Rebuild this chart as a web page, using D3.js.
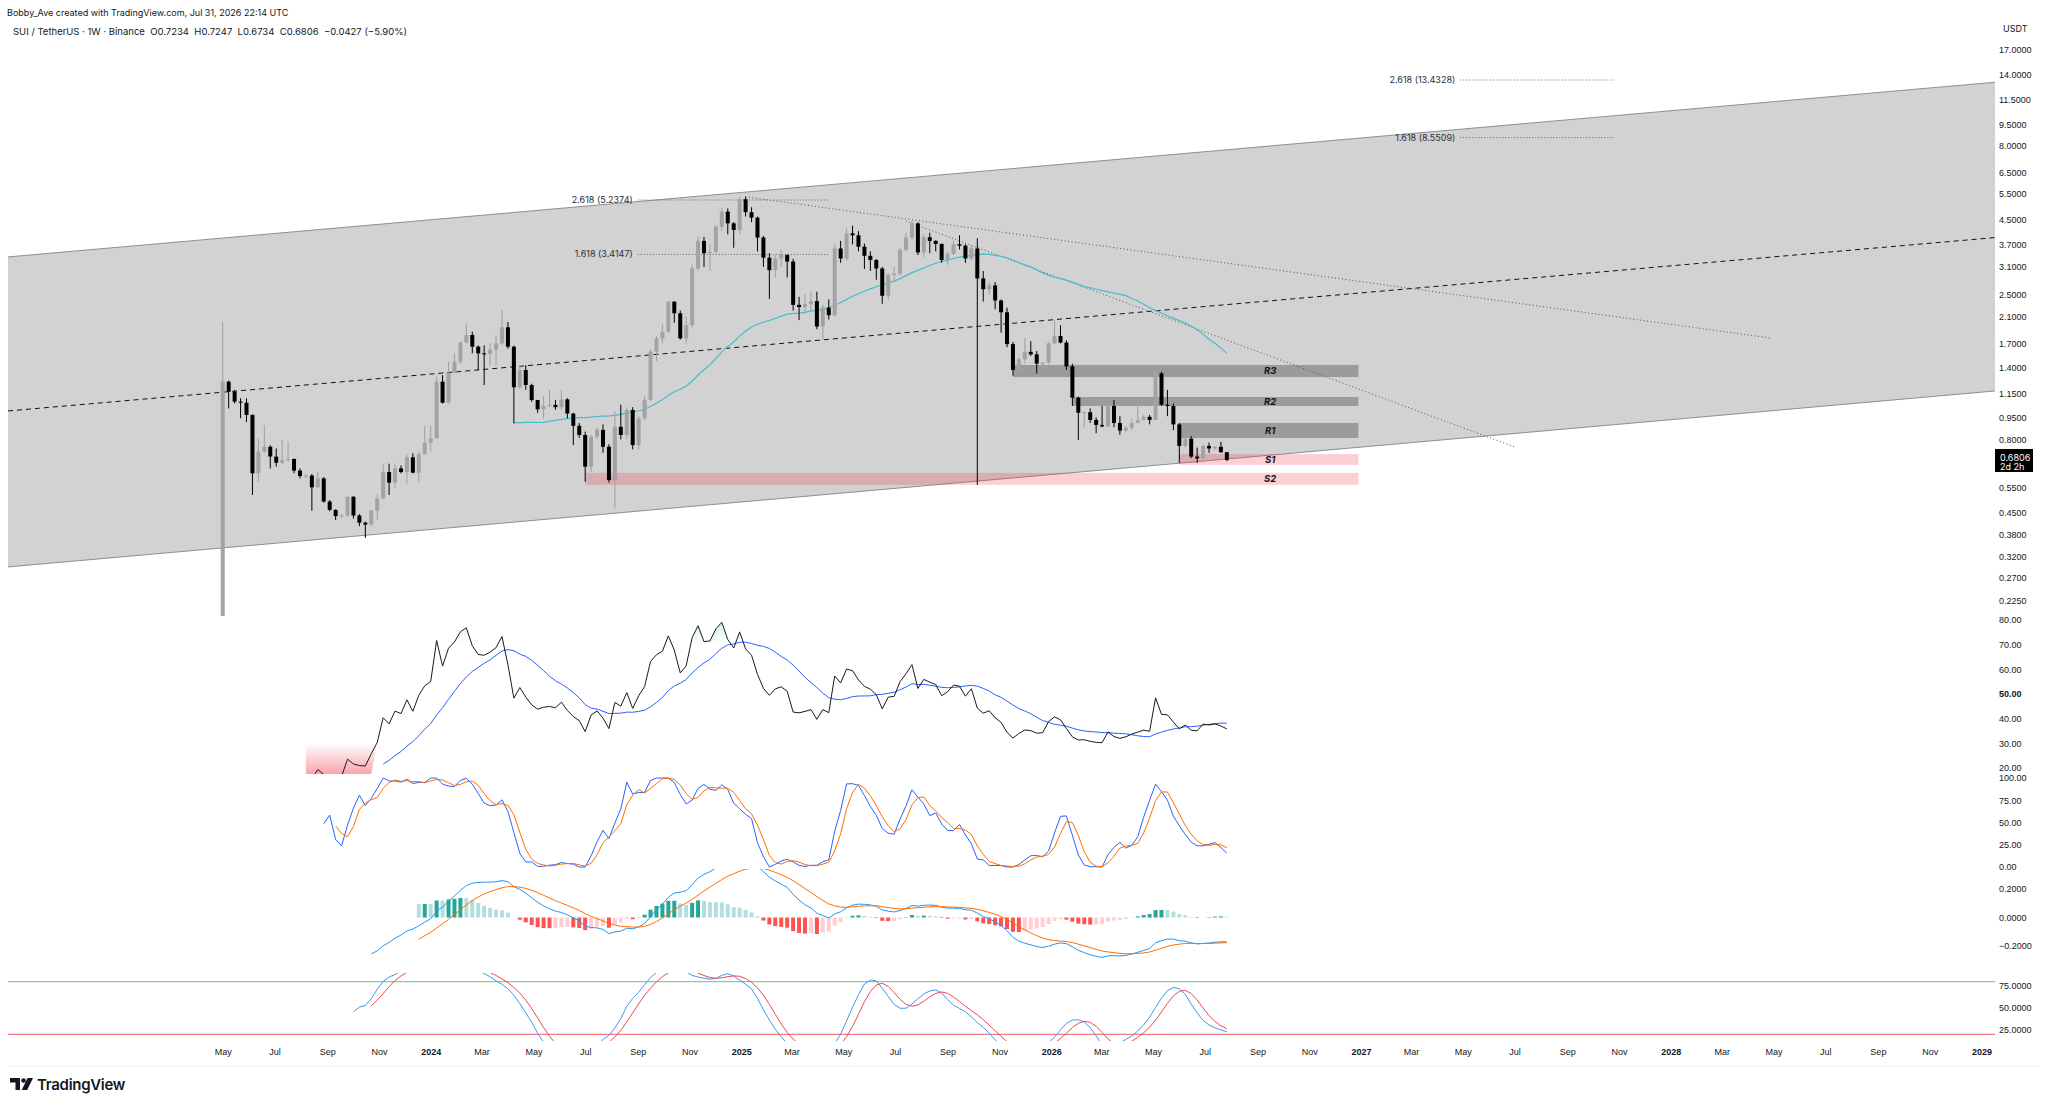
<!DOCTYPE html>
<html>
<head>
<meta charset="utf-8">
<script src="https://cdn.jsdelivr.net/npm/d3@7"></script>
<style>
  body { margin: 0; background: #fff; }
  svg { display: block; font-family: Inter, Roboto, "Noto Sans", sans-serif; }
  .axis text { fill: #131722; font-size: 9px; }
  .axis .domain { display: none; }
</style>
</head>
<body>
<script>
var width = 2048;
var height = 1106;

// weekly SUI / USDT candles, first week 2023-05-01
var firstWeek = '2023-05-01';
var opens = [
  0.20, 1.258, 1.163, 1.076, 1.067, 0.969, 0.613, 0.727, 0.755, 0.699,
  0.666, 0.680, 0.686, 0.626, 0.600, 0.602, 0.549, 0.589, 0.491, 0.460,
  0.438, 0.440, 0.510, 0.440, 0.416, 0.410, 0.457, 0.503, 0.619, 0.570,
  0.637, 0.619, 0.695, 0.616, 0.713, 0.778, 0.808, 1.258, 1.067, 1.349,
  1.473, 1.710, 1.815, 1.656, 1.572, 1.565, 1.62, 1.70, 1.928, 1.656,
  1.204, 1.379, 1.226, 1.09, 1.013, 1.04, 1.049, 1.03, 1.095, 0.98,
  0.89, 0.828, 0.646, 0.818, 0.862, 0.755, 0.581, 0.883, 0.828, 1.008,
  0.765, 0.944, 1.09, 1.593, 1.768, 1.863, 2.357, 2.153, 1.768, 1.963,
  3.06, 3.80, 3.45, 3.49, 4.25, 4.78, 4.36, 4.14, 5.27, 4.76,
  4.56, 3.90, 3.33, 3.02, 3.31, 3.40, 3.23, 2.30, 2.26, 2.31,
  2.37, 1.94, 2.25, 2.12, 3.58, 3.31, 4.03, 3.97, 3.63, 3.38,
  3.27, 3.06, 2.47, 2.91, 2.94, 3.54, 3.90, 4.36, 3.47, 3.91,
  3.80, 3.71, 3.27, 3.43, 3.70, 3.66, 3.31, 3.58, 2.83, 2.60,
  2.68, 2.38, 2.17, 1.69, 1.38, 1.50, 1.59, 1.56, 1.45, 1.46,
  1.70, 1.80, 1.71, 1.42, 1.11, 0.986, 0.99, 0.932, 0.896, 0.886,
  1.04, 0.91, 0.857, 0.877, 0.91, 0.932, 0.955, 0.932, 1.343, 1.05,
  1.04, 0.90, 0.76, 0.805, 0.699, 0.689, 0.76, 0.745, 0.755, 0.7234
];
var highs = [
  2.01, 1.27, 1.18, 1.105, 1.105, 0.975, 0.805, 0.896, 0.765, 0.745,
  0.796, 0.785, 0.689, 0.637, 0.61, 0.61, 0.619, 0.595, 0.497, 0.462,
  0.445, 0.512, 0.512, 0.445, 0.42, 0.46, 0.519, 0.657, 0.661, 0.661,
  0.652, 0.711, 0.717, 0.727, 0.89, 0.89, 1.309, 1.325, 1.473, 1.572,
  1.724, 1.989, 1.863, 1.673, 1.673, 1.70, 1.815, 2.21, 2.01, 1.67,
  1.433, 1.433, 1.238, 1.09, 1.123, 1.18, 1.09, 1.18, 1.105, 0.985,
  0.91, 0.85, 0.83, 0.88, 0.90, 0.77, 1.0, 1.05, 1.03, 1.03,
  0.96, 1.12, 1.62, 1.80, 1.97, 2.37, 2.37, 2.20, 2.10, 3.16,
  3.94, 3.92, 3.70, 4.30, 4.92, 4.90, 4.40, 5.37, 5.37, 4.95,
  4.60, 3.95, 3.45, 3.40, 3.55, 3.42, 3.30, 2.45, 2.5, 2.55,
  2.55, 2.30, 2.40, 3.70, 3.80, 4.20, 4.28, 4.10, 3.72, 3.50,
  3.30, 3.10, 2.95, 3.10, 3.60, 4.05, 4.44, 4.40, 4.0, 4.05,
  3.82, 3.72, 3.50, 3.80, 3.97, 3.70, 3.65, 3.88, 3.0, 2.75,
  2.75, 2.40, 2.25, 1.72, 1.52, 1.77, 1.73, 1.60, 1.47, 1.72,
  2.04, 1.96, 1.74, 1.45, 1.12, 1.0, 1.02, 0.95, 1.04, 1.05,
  1.09, 0.96, 0.89, 0.94, 1.04, 0.97, 0.97, 1.36, 1.36, 1.18,
  1.06, 0.91, 0.84, 0.82, 0.75, 0.77, 0.78, 0.76, 0.785, 0.7247
];
var lows = [
  0.20, 1.02, 1.06, 0.944, 0.917, 0.517, 0.574, 0.72, 0.637, 0.646,
  0.661, 0.670, 0.613, 0.589, 0.59, 0.457, 0.546, 0.487, 0.455, 0.425,
  0.432, 0.435, 0.430, 0.405, 0.369, 0.405, 0.425, 0.50, 0.517, 0.546,
  0.613, 0.566, 0.613, 0.574, 0.71, 0.727, 0.805, 1.06, 1.06, 1.345,
  1.448, 1.70, 1.572, 1.379, 1.226, 1.433, 1.433, 1.68, 1.63, 0.907,
  1.19, 1.18, 1.075, 0.986, 0.944, 1.03, 1.01, 1.013, 0.944, 0.765,
  0.81, 0.574, 0.62, 0.80, 0.72, 0.57, 0.466, 0.80, 0.80, 0.74,
  0.74, 0.93, 1.08, 1.48, 1.70, 1.84, 2.00, 1.75, 1.70, 1.93,
  3.0, 3.10, 3.0, 3.45, 4.1, 4.0, 3.60, 4.0, 4.6, 4.40,
  3.5, 3.10, 2.41, 2.85, 3.1, 2.85, 2.20, 2.04, 2.15, 2.2,
  1.90, 1.75, 2.05, 2.10, 3.20, 3.25, 3.70, 3.50, 3.05, 3.0,
  2.80, 2.32, 2.40, 2.75, 2.90, 3.50, 3.80, 3.40, 3.35, 3.45,
  3.50, 3.20, 3.15, 3.40, 3.55, 3.20, 3.25, 0.56, 2.36, 2.50,
  2.22, 1.85, 1.65, 1.32, 1.36, 1.45, 1.54, 1.34, 1.43, 1.44,
  1.69, 1.70, 1.38, 1.04, 0.796, 0.88, 0.91, 0.84, 0.88, 0.88,
  0.88, 0.83, 0.85, 0.86, 0.91, 0.93, 0.90, 0.93, 1.04, 0.96,
  0.86, 0.665, 0.75, 0.69, 0.665, 0.685, 0.72, 0.735, 0.72, 0.6734
];
var closes = [
  1.258, 1.163, 1.076, 1.067, 0.969, 0.613, 0.727, 0.755, 0.699, 0.666,
  0.680, 0.686, 0.626, 0.600, 0.602, 0.549, 0.589, 0.491, 0.460, 0.438,
  0.440, 0.510, 0.440, 0.416, 0.410, 0.457, 0.503, 0.619, 0.570, 0.637,
  0.619, 0.695, 0.616, 0.713, 0.778, 0.808, 1.258, 1.067, 1.349, 1.473,
  1.710, 1.815, 1.656, 1.572, 1.565, 1.62, 1.70, 1.928, 1.656, 1.204,
  1.379, 1.226, 1.09, 1.013, 1.04, 1.049, 1.03, 1.095, 0.98, 0.89,
  0.828, 0.646, 0.818, 0.862, 0.755, 0.581, 0.883, 0.828, 1.008, 0.765,
  0.944, 1.09, 1.593, 1.768, 1.863, 2.357, 2.153, 1.768, 1.963, 3.06,
  3.80, 3.45, 3.49, 4.25, 4.78, 4.36, 4.14, 5.27, 4.76, 4.56,
  3.90, 3.33, 3.02, 3.31, 3.40, 3.23, 2.30, 2.26, 2.31, 2.37,
  1.94, 2.25, 2.12, 3.58, 3.31, 4.03, 3.97, 3.63, 3.38, 3.27,
  3.06, 2.47, 2.91, 2.94, 3.54, 3.90, 4.36, 3.47, 3.91, 3.80,
  3.71, 3.27, 3.43, 3.70, 3.66, 3.31, 3.58, 2.83, 2.60, 2.68,
  2.38, 2.17, 1.69, 1.38, 1.50, 1.59, 1.56, 1.45, 1.46, 1.70,
  1.80, 1.71, 1.42, 1.11, 0.986, 0.99, 0.932, 0.896, 0.886, 1.04,
  0.91, 0.857, 0.877, 0.91, 0.932, 0.955, 0.932, 1.343, 1.05, 1.04,
  0.90, 0.76, 0.805, 0.699, 0.689, 0.76, 0.745, 0.755, 0.7234, 0.6806
];

// drawings: channel edges as [date, price]
var channelTop = [['2022-08-21', 3.35], ['2029-01-17', 13.2]];
var channelBottom = [['2022-08-21', 0.294], ['2029-01-17', 1.17]];
var channelMid = [['2022-08-21', 1.0], ['2029-01-17', 3.9]];

var trendStarts = [['2025-01-06', 5.37], ['2025-07-14', 4.44]];
var trendEnds = [['2028-04-29', 1.77], ['2027-07-01', 0.754]];

var fibLabels = ['2.618 (5.2374)', '1.618 (3.4147)', '2.618 (13.4328)', '1.618 (8.5509)'];
var fibPrices = [5.2374, 3.4147, 13.4328, 8.5509];
var fibStarts = ['2024-09-01', '2024-09-01', '2027-04-28', '2027-04-28'];
var fibEnds = ['2025-04-14', '2025-04-14', '2027-10-26', '2027-10-26'];

var zoneNames = ['R3', 'R2', 'R1', 'S1', 'S2'];
var zoneTops = [1.435, 1.116, 0.910, 0.713, 0.615];
var zoneBottoms = [1.305, 1.04, 0.809, 0.655, 0.560];
var zoneStarts = ['2025-11-17', '2026-01-26', '2026-06-01', '2026-06-01', '2024-07-01'];
var zoneEnd = '2026-12-29';
var zoneLabelDate = '2026-09-16';

// axis ticks
var priceTicks = [17, 14, 11.5, 9.5, 8, 6.5, 5.5, 4.5, 3.7, 3.1, 2.5, 2.1, 1.7, 1.4, 1.15,
  0.95, 0.8, 0.55, 0.45, 0.38, 0.32, 0.27, 0.225];
var rsiTicks = [80, 70, 60, 50, 40, 30, 20];
var stochTicks = [100, 75, 50, 25, 0];
var macdTicks = [0.2, 0, -0.2];
var lowerTicks = [75, 50, 25];
var lowerLevels = [80, 20];

var parseDate = d3.utcParse('%Y-%m-%d');
var weeks = d3.range(opens.length).map(function(i) {
    return d3.utcDay.offset(parseDate(firstWeek), 7 * i);
});

// ---------- indicators ----------
function sma(src, len) {
    return src.map(function(d, i) {
        if (i < len - 1) return NaN;
        var w = src.slice(i - len + 1, i + 1);
        if (w.some(function(v) { return isNaN(v); })) return NaN;
        return d3.mean(w);
    });
}
function smooth(src, len, alpha) {
    var out = [], prev = NaN, seen = [];
    src.forEach(function(v) {
        if (isNaN(v)) { out.push(NaN); return; }
        if (isNaN(prev)) {
            seen.push(v);
            if (seen.length === len) prev = d3.mean(seen);
        } else {
            prev = alpha * v + (1 - alpha) * prev;
        }
        out.push(prev);
    });
    return out;
}
function rma(src, len) { return smooth(src, len, 1 / len); }
function ema(src, len) { return smooth(src, len, 2 / (len + 1)); }
function stoch(src, len) {
    return src.map(function(v, i) {
        if (isNaN(v)) return NaN;
        var w = src.slice(Math.max(0, i - len + 1), i + 1).filter(function(d) { return !isNaN(d); });
        var hi = d3.max(w), lo = d3.min(w);
        return hi === lo ? NaN : 100 * (v - lo) / (hi - lo);
    });
}

var ups = closes.map(function(c, i) { return i === 0 ? NaN : Math.max(c - closes[i - 1], 0); });
var downs = closes.map(function(c, i) { return i === 0 ? NaN : Math.max(closes[i - 1] - c, 0); });
var avgUp = rma(ups, 14), avgDown = rma(downs, 14);
var rsi = avgUp.map(function(u, i) {
    if (isNaN(u)) return NaN;
    if (avgDown[i] === 0) return 100;
    return 100 - 100 / (1 + u / avgDown[i]);
});
var rsiMa = sma(rsi, 14);

var stochRaw = stoch(rsi, 14);
var stochK = sma(stochRaw, 3);
var stochD = sma(stochK, 3);

// slower, smoothed stoch RSI for the lowest pane
var slowK = sma(stochK, 6);
var slowD = sma(slowK, 4);

var logCloses = closes.map(Math.log);
var ema12 = ema(logCloses, 12), ema26 = ema(logCloses, 26);
var macd = ema12.map(function(f, i) { return f - ema26[i]; });
var signal = ema(macd, 9);
var hist = macd.map(function(m, i) { return m - signal[i]; });

var ma50 = sma(closes, 50);

// ---------- scales ----------
var xScale = d3.scaleUtc()
    .domain([parseDate('2022-08-21'), parseDate('2029-01-17')])
    .range([8, 1995]);
var yPrice = d3.scaleLog().domain([0.225, 17]).range([601, 50]);
var yRsi = d3.scaleLinear().domain([20, 80]).range([768, 620]);
var yStoch = d3.scaleLinear().domain([0, 100]).range([867, 778]);
var yMacd = d3.scaleLinear().domain([-0.2, 0.2]).range([946, 889]);
var yLower = d3.scaleLinear().domain([25, 75]).range([1030, 986]);

var svg = d3.select('body')
    .append('svg')
    .attr('width', width)
    .attr('height', height);

var defs = svg.append('defs');
function clip(id, y0, y1) {
    defs.append('clipPath').attr('id', id)
        .append('rect').attr('x', 7).attr('y', y0).attr('width', 1988).attr('height', y1 - y0);
}
clip('clipPrice', 0, 617);
clip('clipRsi', 612, 774);
clip('clipStoch', 775, 869);
clip('clipMacd', 869, 969);
clip('clipLower', 973, 1041);

var gOver = defs.append('linearGradient').attr('id', 'gradOver')
    .attr('gradientUnits', 'userSpaceOnUse')
    .attr('x1', 0).attr('x2', 0).attr('y1', yRsi(100)).attr('y2', yRsi(70));
gOver.append('stop').attr('offset', 0).attr('stop-color', '#089981').attr('stop-opacity', 0.55);
gOver.append('stop').attr('offset', 1).attr('stop-color', '#089981').attr('stop-opacity', 0);
var gUnder = defs.append('linearGradient').attr('id', 'gradUnder')
    .attr('gradientUnits', 'userSpaceOnUse')
    .attr('x1', 0).attr('x2', 0).attr('y1', yRsi(30)).attr('y2', 774);
gUnder.append('stop').attr('offset', 0).attr('stop-color', '#f23645').attr('stop-opacity', 0);
gUnder.append('stop').attr('offset', 1).attr('stop-color', '#f23645').attr('stop-opacity', 0.45);

// ---------- header ----------
svg.append('text').attr('x', 7).attr('y', 16)
    .attr('font-size', '9px').attr('fill', '#131722')
    .text('Bobby_Ave created with TradingView.com, Jul 31, 2026 22:14 UTC');
svg.append('text').attr('x', 13).attr('y', 35)
    .attr('font-size', '9.5px').attr('fill', '#131722')
    .attr('xml:space', 'preserve')
    .text('SUI / TetherUS · 1W · Binance  O0.7234  H0.7247  L0.6734  C0.6806  \u22120.0427 (\u22125.90%)');

// ---------- price pane ----------
var pane = svg.append('g').attr('clip-path', 'url(#clipPrice)');
function pt(a) { return [xScale(parseDate(a[0])), yPrice(a[1])]; }

pane.append('path')
    .attr('d', 'M' + [pt(channelTop[0]), pt(channelTop[1]), pt(channelBottom[1]), pt(channelBottom[0])].join('L') + 'Z')
    .attr('fill', '#d2d2d2');
[channelTop, channelBottom].forEach(function(edge) {
    pane.append('line')
        .attr('x1', pt(edge[0])[0]).attr('y1', pt(edge[0])[1])
        .attr('x2', pt(edge[1])[0]).attr('y2', pt(edge[1])[1])
        .attr('stroke', '#8e8e8e').attr('stroke-width', 1);
});

// zones
zoneNames.forEach(function(name, i) {
    var top = yPrice(zoneTops[i]), bottom = yPrice(zoneBottoms[i]);
    var x0 = xScale(parseDate(zoneStarts[i])), x1 = xScale(parseDate(zoneEnd));
    pane.append('rect')
        .attr('x', x0).attr('y', top)
        .attr('width', x1 - x0).attr('height', bottom - top)
        .attr('fill', name.charAt(0) === 'R' ? 'rgba(0,0,0,0.26)' : 'rgba(242,54,69,0.24)');
});

pane.append('line')
    .attr('x1', pt(channelMid[0])[0]).attr('y1', pt(channelMid[0])[1])
    .attr('x2', pt(channelMid[1])[0]).attr('y2', pt(channelMid[1])[1])
    .attr('stroke', '#111').attr('stroke-width', 1).attr('stroke-dasharray', '5,4');

trendStarts.forEach(function(s, i) {
    var a = pt(s), b = pt(trendEnds[i]);
    pane.append('line')
        .attr('x1', a[0]).attr('y1', a[1]).attr('x2', b[0]).attr('y2', b[1])
        .attr('stroke', '#555').attr('stroke-width', 1).attr('stroke-dasharray', '1,2.5');
});

fibLabels.forEach(function(label, i) {
    var x0 = xScale(parseDate(fibStarts[i])), x1 = xScale(parseDate(fibEnds[i]));
    var y = yPrice(fibPrices[i]);
    pane.append('line')
        .attr('x1', x0).attr('x2', x1).attr('y1', y).attr('y2', y)
        .attr('stroke', '#666').attr('stroke-width', 1).attr('stroke-dasharray', '1,2');
    pane.append('text')
        .attr('x', x0 - 5).attr('y', y + 3)
        .attr('text-anchor', 'end')
        .attr('font-size', '9px').attr('fill', '#2a2e39')
        .text(label);
});

var maLine = d3.line()
    .defined(function(d) { return !isNaN(d[1]); })
    .x(function(d) { return xScale(d[0]); })
    .y(function(d) { return yPrice(d[1]); });
pane.append('path')
    .attr('d', maLine(weeks.map(function(w, i) { return [w, ma50[i]]; })))
    .attr('fill', 'none').attr('stroke', '#46bcd0').attr('stroke-width', 1.2);

var candles = weeks.map(function(w, i) {
    return { date: w, o: opens[i], h: highs[i], l: lows[i], c: closes[i] };
});
var candleG = pane.append('g').selectAll('g')
    .data(candles).enter().append('g');
candleG.append('line')
    .attr('x1', function(d) { return xScale(d.date); })
    .attr('x2', function(d) { return xScale(d.date); })
    .attr('y1', function(d) { return yPrice(d.h); })
    .attr('y2', function(d) { return yPrice(d.l); })
    .attr('stroke', function(d) { return d.c >= d.o ? '#9f9f9f' : '#000'; })
    .attr('stroke-width', 1);
candleG.append('rect')
    .attr('x', function(d) { return xScale(d.date) - 2; })
    .attr('width', 4)
    .attr('y', function(d) { return yPrice(Math.max(d.o, d.c)); })
    .attr('height', function(d) { return Math.max(1, Math.abs(yPrice(d.o) - yPrice(d.c))); })
    .attr('fill', function(d) { return d.c >= d.o ? '#a3a3a3' : '#000'; });

zoneNames.forEach(function(name, i) {
    pane.append('text')
        .attr('x', xScale(parseDate(zoneLabelDate)))
        .attr('y', yPrice(Math.sqrt(zoneTops[i] * zoneBottoms[i])) + 3.5)
        .attr('text-anchor', 'middle')
        .attr('font-size', '9.5px').attr('font-weight', 'bold').attr('font-style', 'italic')
        .attr('fill', '#131722')
        .text(name);
});

// ---------- right axes ----------
function rightAxis(scale, ticks, fmt, bold) {
    var g = svg.append('g').attr('class', 'axis')
        .attr('transform', 'translate(1999,0)')
        .call(d3.axisRight(scale).tickValues(ticks).tickFormat(fmt).tickSize(0).tickPadding(0));
    if (bold !== undefined) {
        g.selectAll('text').filter(function(d) { return d === bold; }).attr('font-weight', 'bold');
    }
    return g;
}
rightAxis(yPrice, priceTicks, d3.format('.4f'));
rightAxis(yRsi, rsiTicks, d3.format('.2f'), 50);
rightAxis(yStoch, stochTicks, d3.format('.2f'));
rightAxis(yMacd, macdTicks, d3.format('.4f'));
rightAxis(yLower, lowerTicks, d3.format('.4f'));

svg.append('text').attr('x', 2003).attr('y', 32)
    .attr('font-size', '9px').attr('fill', '#131722').text('USDT');

var last = closes.length - 1;
var lastY = yPrice(closes[last]);
svg.append('rect').attr('x', 1995).attr('y', lastY - 11).attr('width', 38).attr('height', 23).attr('fill', '#000');
svg.append('text').attr('x', 2000).attr('y', lastY + 1)
    .attr('font-size', '9px').attr('fill', '#fff').text(d3.format('.4f')(closes[last]));
svg.append('text').attr('x', 2000).attr('y', lastY + 10)
    .attr('font-size', '9px').attr('fill', '#fff').text('2d 2h');

// ---------- RSI pane ----------
var rsiG = svg.append('g').attr('clip-path', 'url(#clipRsi)');
var rsiPts = weeks.map(function(w, i) { return [w, rsi[i], rsiMa[i]]; });
rsiG.append('path')
    .attr('d', d3.area()
        .defined(function(d) { return !isNaN(d[1]); })
        .x(function(d) { return xScale(d[0]); })
        .y0(yRsi(70))
        .y1(function(d) { return yRsi(Math.max(d[1], 70)); })(rsiPts))
    .attr('fill', 'url(#gradOver)');
rsiG.append('path')
    .attr('d', d3.area()
        .defined(function(d) { return !isNaN(d[1]); })
        .x(function(d) { return xScale(d[0]); })
        .y0(yRsi(30))
        .y1(function(d) { return d[1] < 30 ? 774 : yRsi(30); })(rsiPts))
    .attr('fill', 'url(#gradUnder)');
rsiG.append('path')
    .attr('d', d3.line()
        .defined(function(d) { return !isNaN(d[2]); })
        .x(function(d) { return xScale(d[0]); })
        .y(function(d) { return yRsi(d[2]); })(rsiPts))
    .attr('fill', 'none').attr('stroke', '#2962ff').attr('stroke-width', 1);
rsiG.append('path')
    .attr('d', d3.line()
        .defined(function(d) { return !isNaN(d[1]); })
        .x(function(d) { return xScale(d[0]); })
        .y(function(d) { return yRsi(d[1]); })(rsiPts))
    .attr('fill', 'none').attr('stroke', '#1a1a1a').attr('stroke-width', 1);

// ---------- Stoch RSI pane ----------
function seriesLine(g, values, scale, color, w) {
    g.append('path')
        .attr('d', d3.line()
            .defined(function(d) { return !isNaN(d[1]); })
            .x(function(d) { return xScale(d[0]); })
            .y(function(d) { return scale(d[1]); })(weeks.map(function(wk, i) { return [wk, values[i]]; })))
        .attr('fill', 'none').attr('stroke', color).attr('stroke-width', w || 1);
}
var stochG = svg.append('g').attr('clip-path', 'url(#clipStoch)');
seriesLine(stochG, stochK, yStoch, '#2962ff');
seriesLine(stochG, stochD, yStoch, '#ff6d00');

// ---------- MACD pane ----------
var macdG = svg.append('g').attr('clip-path', 'url(#clipMacd)');
macdG.selectAll('rect')
    .data(weeks.map(function(w, i) { return { date: w, h: hist[i], p: i > 0 ? hist[i - 1] : NaN }; })
        .filter(function(d) { return !isNaN(d.h); }))
    .enter()
    .append('rect')
    .attr('x', function(d) { return xScale(d.date) - 2; })
    .attr('width', 4)
    .attr('y', function(d) { return Math.min(yMacd(0), yMacd(d.h)); })
    .attr('height', function(d) { return Math.abs(yMacd(d.h) - yMacd(0)); })
    .attr('fill', function(d) {
        var rising = !isNaN(d.p) && d.p < d.h;
        if (d.h >= 0) return rising ? '#26a69a' : '#b2dfdb';
        return rising ? '#ffcdd2' : '#ff5252';
    });
seriesLine(macdG, macd, yMacd, '#2196f3');
seriesLine(macdG, signal, yMacd, '#ff6d00');

// ---------- lower oscillator pane ----------
var lowerG = svg.append('g').attr('clip-path', 'url(#clipLower)');
lowerLevels.forEach(function(v, i) {
    lowerG.append('line')
        .attr('x1', 8).attr('x2', 1995)
        .attr('y1', yLower(v)).attr('y2', yLower(v))
        .attr('stroke', i === 0 ? '#86cf93' : '#f27a80').attr('stroke-width', 1.3);
});
seriesLine(lowerG, slowK, yLower, '#3d9ae8');
seriesLine(lowerG, slowD, yLower, '#f0474f');

// ---------- time axis ----------
var monthTicks = d3.utcMonth.every(2).range(parseDate('2023-05-01'), parseDate('2029-01-02'));
var timeAxis = svg.append('g').attr('class', 'axis')
    .attr('transform', 'translate(0,1049)')
    .call(d3.axisBottom(xScale).tickValues(monthTicks).tickSize(0).tickPadding(0)
        .tickFormat(function(d) {
            return d.getUTCMonth() === 0 ? d3.utcFormat('%Y')(d) : d3.utcFormat('%b')(d);
        }));
timeAxis.selectAll('text')
    .filter(function(d) { return d.getUTCMonth() === 0; })
    .attr('font-weight', 'bold');
svg.append('line').attr('x1', 8).attr('x2', 2040).attr('y1', 1066).attr('y2', 1066)
    .attr('stroke', '#f0f3fa').attr('stroke-width', 1);

// ---------- logo ----------
var logo = svg.append('g').attr('fill', '#131722');
logo.append('path').attr('d', 'M10 1078h10v12h-4.5v-7.5h-5.5z');
logo.append('circle').attr('cx', 23.5).attr('cy', 1080.5).attr('r', 2.3);
logo.append('path').attr('d', 'M27.5 1078h5.5l-5.8 12h-5.5z');
svg.append('text').attr('x', 37).attr('y', 1090)
    .attr('font-size', '15px').attr('font-weight', 600).attr('fill', '#131722')
    .attr('letter-spacing', '-0.3')
    .text('TradingView');
</script>
</body>
</html>
